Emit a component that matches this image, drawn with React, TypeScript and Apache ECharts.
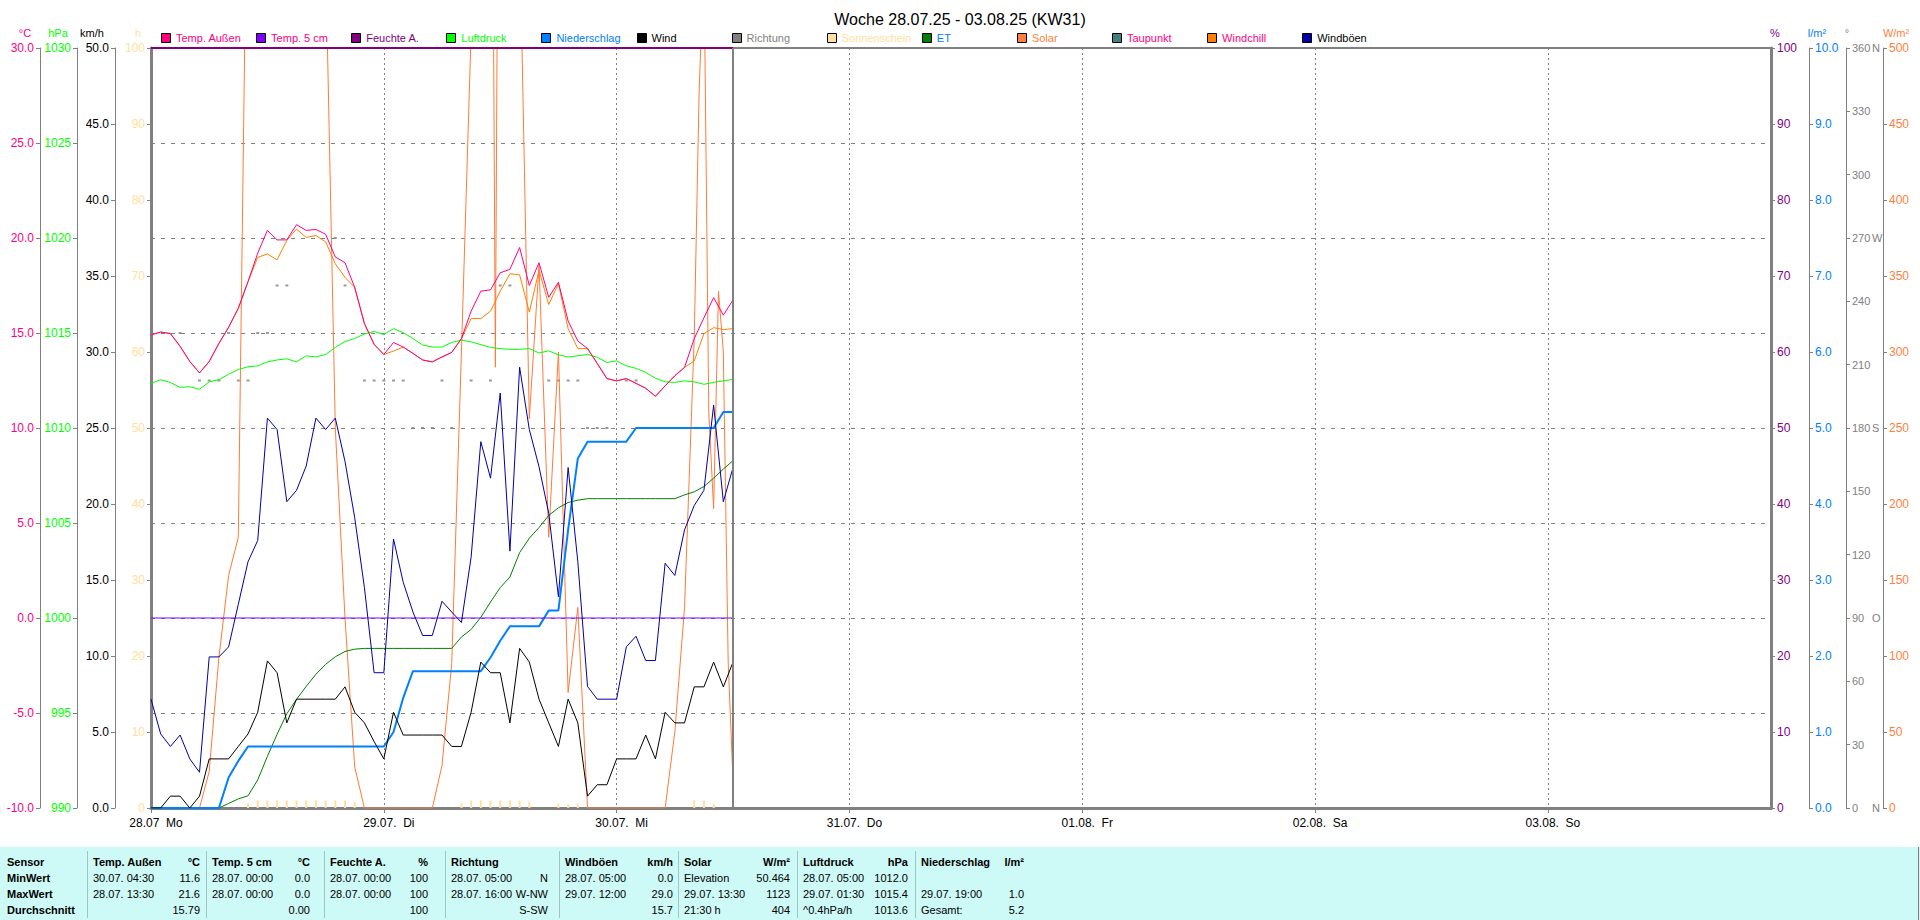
import React, { useEffect, useRef } from "react";
import * as echarts from "echarts";

const FONT = "'Liberation Sans', Arial, sans-serif";

const TITLE = "Woche 28.07.25 - 03.08.25 (KW31)";
const DAY_LABELS = ["28.07  Mo", "29.07.  Di", "30.07.  Mi", "31.07.  Do", "01.08.  Fr", "02.08.  Sa", "03.08.  So"];

// hourly samples, index = hours since 28.07. 00:00
const TEMP_AUSSEN = [
  14.9, 15.05, 14.97, 14.3, 13.5, 12.9, 13.5, 14.45, 15.3, 16.3,
  17.7, 19.2, 20.4, 19.9, 19.9, 20.7, 20.4, 20.45, 20.2, 19.0,
  18.7, 17.4, 15.5, 14.4, 13.87, 14.5, 14.26, 13.93, 13.58, 13.48,
  13.74, 13.98, 14.7, 16.15, 17.2, 17.27, 18.17, 18.35, 19.5, 17.5,
  18.7, 16.88, 17.67, 15.63, 14.58, 14.18, 13.4, 12.6, 12.48, 12.6,
  12.35, 12.09, 11.67, 12.22, 12.75, 13.19, 14.7, 15.8, 16.86, 15.94,
  16.74,
];
const WINDCHILL = [
  14.9, 15.05, 14.97, 14.3, 13.5, 12.9, 13.5, 14.45, 15.3, 16.3,
  17.7, 18.98, 19.16, 18.85, 19.87, 20.47, 20.03, 20.13, 19.8, 18.64,
  17.93, 17.4, 15.5, 14.4, 13.87, 14.05, 14.26, 13.93, 13.58, 13.48,
  13.74, 13.98, 14.7, 15.76, 15.76, 16.15, 17.2, 18.12, 18.06, 16.1,
  18.3, 16.5, 17.6, 15.23, 14.18, 14.18, 13.4, 12.6, 12.48, 12.6,
  12.35, 12.09, 11.67, 12.22, 12.75, 13.19, 13.53, 14.97, 15.28, 15.18,
  15.23,
];
const LUFTDRUCK = [
  1012.35, 1012.54, 1012.4, 1012.14, 1012.17, 1012.04, 1012.43, 1012.54, 1012.83, 1013.08,
  1013.22, 1013.27, 1013.48, 1013.58, 1013.64, 1013.48, 1013.8, 1013.74, 1013.87, 1014.24,
  1014.55, 1014.71, 1014.95, 1015.08, 1014.92, 1015.23, 1015.02, 1014.71, 1014.37, 1014.26,
  1014.26, 1014.5, 1014.63, 1014.53, 1014.39, 1014.24, 1014.18, 1014.14, 1014.14, 1014.18,
  1013.95, 1014.06, 1013.85, 1013.74, 1013.8, 1013.87, 1013.72, 1013.45, 1013.53, 1013.27,
  1013.14, 1012.93, 1012.62, 1012.43, 1012.4, 1012.48, 1012.43, 1012.3, 1012.4, 1012.48,
  1012.56,
];
const WIND = [
  0, 0, 0.78, 0.78, 0, 0.78, 3.23, 3.23, 3.23, 4.05,
  4.87, 6.3, 9.68, 8.9, 5.6, 7.16, 7.16, 7.16, 7.16, 7.16,
  7.97, 6.3, 5.6, 4.37, 3.23, 6.3, 4.8, 4.8, 4.8, 4.8,
  4.8, 4.05, 4.05, 6.3, 9.6, 8.9, 8.9, 5.6, 10.5, 9.6,
  7.16, 5.6, 4.05, 7.16, 5.6, 0.78, 1.53, 1.53, 3.23, 3.23,
  3.23, 4.8, 3.23, 6.3, 5.6, 5.6, 7.97, 7.97, 9.6, 7.97,
  9.6,
];
const WINDBOEEN = [
  7.16, 4.87, 4.05, 4.8, 3.23, 2.35, 9.94, 9.94, 10.6, 13.4,
  16.2, 17.6, 25.65, 24.9, 20.15, 20.9, 22.5, 25.65, 24.9, 25.65,
  22.8, 19.1, 14.5, 8.9, 8.9, 17.7, 14.85, 12.9, 11.35, 11.35,
  13.6, 12.9, 12.2, 16.5, 24.1, 21.7, 27.3, 16.9, 29.0, 24.9,
  22.45, 19.4, 13.9, 22.4, 16.2, 8.0, 7.16, 7.16, 7.16, 10.6,
  11.3, 9.7, 9.7, 16.1, 15.3, 18.3, 19.9, 20.9, 26.5, 20.15,
  22.4,
];
const NIEDERSCHLAG = [
  0, 0, 0, 0, 0, 0, 0, 0, 0.4, 0.62,
  0.81, 0.81, 0.81, 0.81, 0.81, 0.81, 0.81, 0.81, 0.81, 0.81,
  0.81, 0.81, 0.81, 0.81, 0.81, 1.0, 1.45, 1.8, 1.8, 1.8,
  1.8, 1.8, 1.8, 1.8, 1.8, 1.98, 2.2, 2.39, 2.39, 2.39,
  2.39, 2.6, 2.6, 3.66, 4.6, 4.82, 4.82, 4.82, 4.82, 4.82,
  5.0, 5.0, 5.0, 5.0, 5.0, 5.0, 5.0, 5.0, 5.0, 5.21,
  5.21,
];
const ET = [
  0, 0, 0, 0, 0, 0, 0, 0, 0.06, 0.12,
  0.16, 0.37, 0.68, 0.97, 1.24, 1.43, 1.6, 1.76, 1.89, 1.99,
  2.06, 2.09, 2.1, 2.1, 2.1, 2.1, 2.1, 2.1, 2.1, 2.1,
  2.1, 2.1, 2.25, 2.35, 2.51, 2.71, 2.9, 3.04, 3.36, 3.55,
  3.69, 3.85, 3.95, 4.02, 4.05, 4.07, 4.07, 4.07, 4.07, 4.07,
  4.07, 4.07, 4.07, 4.07, 4.07, 4.12, 4.16, 4.23, 4.34, 4.46,
  4.57,
];
const TEMP_5CM_HOURS = [0, 60];
const TEMP_5CM = [0.0, 0.0];
const FEUCHTE_HOURS = [0, 60];
const FEUCHTE = [100, 100];
const NOW_HOUR = 60;

const SOLAR_HOURS = [0, 5, 6, 7, 8, 9, 10, 11, 12, 13, 14, 15, 16, 17, 18, 19, 20, 21, 22, 29, 30, 31, 32, 33, 34, 35, 35.5, 36, 36.5, 37, 38, 39, 40, 41, 42, 43, 44, 45, 53, 54, 55, 56, 56.5, 57, 57.5, 58, 58.5, 59, 59.5, 60];
const SOLAR_VALUES = [0, 0, 24, 99, 153, 178, 670, 800, 900, 950, 930, 870, 780, 680, 560, 250, 125, 27, 0, 0, 28, 95, 300, 510, 750, 880, 290, 900, 1050, 1123, 580, 256, 357, 178, 300, 76, 132, 0, 0, 50, 132, 309, 470, 560, 260, 197, 340, 300, 96, 18];

const SUN_HOURS = [10, 11, 12, 13, 14, 15, 16, 17, 18, 19, 20, 21, 32, 33, 34, 35, 36, 37, 38, 39, 42, 43, 44, 56, 57, 58];
const SUN_VALUES = [0.6, 1, 1, 1, 1, 1, 1, 1, 1, 1, 1, 0.8, 0.6, 1, 1, 1, 1, 1, 1, 0.8, 0.6, 0.5, 0.6, 1, 1, 0.5];

const DIR_HOURS = [3, 5, 6, 7, 8, 9, 10, 11, 12, 13, 14, 19, 20, 22, 23, 24, 25, 26, 27, 28, 29, 30, 31, 33, 35, 36, 37, 41, 42, 43, 44, 45, 46, 47, 49, 50];
const DIR_DEG = [225, 202.5, 202.5, 202.5, 225, 202.5, 202.5, 225, 225, 247.5, 247.5, 270, 247.5, 202.5, 202.5, 202.5, 202.5, 202.5, 180, 180, 180, 202.5, 180, 202.5, 202.5, 247.5, 247.5, 202.5, 202.5, 202.5, 202.5, 180, 180, 180, 202.5, 202.5];

const COMPASS: Record<number, string> = { 0: "N", 90: "O", 180: "S", 270: "W", 360: "N" };

const LEGEND_NAMES = ["Temp. Außen", "Temp. 5 cm", "Feuchte A.", "Luftdruck", "Niederschlag", "Wind", "Richtung", "Sonnenschein", "ET", "Solar", "Taupunkt", "Windchill", "Windböen"];
const LEGEND_BOX = ["#FF0080", "#8000FF", "#800080", "#00FF00", "#0080FF", "#000000", "#808080", "#FFE0A0", "#008000", "#FF8040", "#408080", "#FF8000", "#0000A0"];
const LEGEND_TEXT = ["#FF0080", "#FF0080", "#800080", "#00FF00", "#0080FF", "#000000", "#808080", "#FFE0A0", "#0080FF", "#FF8040", "#FF0080", "#FF0080", "#000000"];

const AXIS_NAMES = ["°C", "hPa", "km/h", "h", "%", "l/m²", "°", "W/m²"];
const AXIS_NAME_X = [25, 58, 92, 138, 1775, 1817, 1847, 1896];
const AXIS_NAME_COLORS = ["#FF0080", "#00FF00", "#000000", "#FFE0A0", "#800080", "#0080FF", "#808080", "#FF8040"];

const TBL_ROWS = ["Sensor", "MinWert", "MaxWert", "Durchschnitt"];
const TBL_COLS = ["Temp. Außen", "Temp. 5 cm", "Feuchte A.", "Richtung", "Windböen", "Solar", "Luftdruck", "Niederschlag"];
const TBL_UNITS = ["°C", "°C", "%", "", "km/h", "W/m²", "hPa", "l/m²"];
const TBL_MIN_WHEN = ["30.07. 04:30", "28.07. 00:00", "28.07. 00:00", "28.07. 05:00", "28.07. 05:00", "Elevation", "28.07. 05:00", ""];
const TBL_MIN_VAL = ["11.6", "0.0", "100", "N", "0.0", "50.464", "1012.0", ""];
const TBL_MAX_WHEN = ["28.07. 13:30", "28.07. 00:00", "28.07. 00:00", "28.07. 16:00", "29.07. 12:00", "29.07. 13:30", "29.07. 01:30", "29.07. 19:00"];
const TBL_MAX_VAL = ["21.6", "0.0", "100", "W-NW", "29.0", "1123", "1015.4", "1.0"];
const TBL_AVG_WHEN = ["", "", "", "", "", "21:30 h", "^0.4hPa/h", "Gesamt:"];
const TBL_AVG_VAL = ["15.79", "0.00", "100", "S-SW", "15.7", "404", "1013.6", "5.2"];

// layout
const COL_LEFT = [93, 212, 330, 451, 565, 684, 803, 921];
const COL_RIGHT = [200, 310, 428, 548, 673, 790, 908, 1024];
const ROW_Y = [862, 878, 894, 910];

function buildOption() {
  const gfx: any[] = [];
  gfx.push({ type: "line", silent: true, z: 0, shape: { x1: 151, y1: 48, x2: 1771, y2: 48 }, style: { stroke: "#808080", lineWidth: 2 } });
  AXIS_NAMES.forEach((n, i) =>
    gfx.push({ type: "text", x: AXIS_NAME_X[i], y: 33, silent: true, style: { text: n, fill: AXIS_NAME_COLORS[i], fontSize: 11, fontFamily: FONT, align: "center", verticalAlign: "middle" } })
  );
  LEGEND_NAMES.forEach((n, i) => {
    const x = 161 + i * 95.1;
    gfx.push({ type: "rect", silent: true, shape: { x: Math.round(x) + 0.5, y: 33.5, width: 9, height: 9 }, style: { fill: LEGEND_BOX[i], stroke: "#000", lineWidth: 1 } });
    gfx.push({ type: "text", silent: true, x: x + 15, y: 38, style: { text: n, fill: LEGEND_TEXT[i], fontSize: 11, fontFamily: FONT, verticalAlign: "middle" } });
  });
  // table
  gfx.push({ type: "rect", silent: true, shape: { x: 0, y: 847, width: 1920, height: 73 }, style: { fill: "#CDF9F6" } });
  gfx.push({ type: "line", silent: true, shape: { x1: 1918.5, y1: 847, x2: 1918.5, y2: 920 }, style: { stroke: "#808080", lineWidth: 1 } });
  COL_LEFT.forEach((x) =>
    gfx.push({ type: "line", silent: true, shape: { x1: x - 5.5, y1: 851, x2: x - 5.5, y2: 918 }, style: { stroke: "#9FC4C4", lineWidth: 1 } })
  );
  const t = (text: string, x: number, y: number, bold: boolean, align: string) =>
    gfx.push({ type: "text", silent: true, x, y, style: { text, fill: "#000", fontSize: 11, fontFamily: FONT, fontWeight: bold ? "bold" : "normal", align, verticalAlign: "middle" } });
  TBL_ROWS.forEach((r, i) => t(r, 7, ROW_Y[i], true, "left"));
  TBL_COLS.forEach((c, i) => {
    t(c, COL_LEFT[i], ROW_Y[0], true, "left");
    if (TBL_UNITS[i]) t(TBL_UNITS[i], COL_RIGHT[i], ROW_Y[0], true, "right");
    t(TBL_MIN_WHEN[i], COL_LEFT[i], ROW_Y[1], false, "left");
    t(TBL_MIN_VAL[i], COL_RIGHT[i], ROW_Y[1], false, "right");
    t(TBL_MAX_WHEN[i], COL_LEFT[i], ROW_Y[2], false, "left");
    t(TBL_MAX_VAL[i], COL_RIGHT[i], ROW_Y[2], false, "right");
    t(TBL_AVG_WHEN[i], COL_LEFT[i], ROW_Y[3], false, "left");
    t(TBL_AVG_VAL[i], COL_RIGHT[i], ROW_Y[3], false, "right");
  });

  const mkY = (p: any) => ({
    type: "value",
    min: p.min,
    max: p.max,
    interval: p.interval,
    position: p.position,
    offset: p.offset,
    axisLine: { show: true, onZero: false, lineStyle: { color: "#808080", width: p.lw || 1 } },
    axisTick: { show: true, length: 4, lineStyle: { color: "#808080" } },
    axisLabel: { show: true, color: p.color, fontSize: 12, fontFamily: FONT, margin: 6, formatter: p.fmt, rich: p.rich, showMinLabel: true, showMaxLabel: true },
    splitLine: p.split ? { show: true, lineStyle: { color: "#808080", type: [4, 6], width: 1 } } : { show: false },
  });

  const yAxis = [
    mkY({ min: -10, max: 30, interval: 5, position: "left", offset: 111, color: "#FF0080", fmt: (v: number) => v.toFixed(1), split: true }),
    mkY({ min: 990, max: 1030, interval: 5, position: "left", offset: 74, color: "#00FF00", fmt: (v: number) => String(v) }),
    mkY({ min: 0, max: 50, interval: 5, position: "left", offset: 36, color: "#000000", fmt: (v: number) => v.toFixed(1) }),
    mkY({ min: 0, max: 100, interval: 10, position: "left", offset: 0, color: "#FFE0A0", fmt: (v: number) => String(v), lw: 3 }),
    mkY({ min: 0, max: 100, interval: 10, position: "right", offset: 0, color: "#800080", fmt: (v: number) => String(v), lw: 3 }),
    mkY({ min: 0, max: 10, interval: 1, position: "right", offset: 38, color: "#0080FF", fmt: (v: number) => v.toFixed(1) }),
    mkY({
      min: 0, max: 360, interval: 30, position: "right", offset: 75, color: "#808080",
      fmt: (v: number) => `{n|${v}}{c|${COMPASS[v] || ""}}`,
      rich: { n: { width: 20, align: "left", color: "#808080", fontSize: 11, fontFamily: FONT }, c: { color: "#808080", fontSize: 11, fontFamily: FONT } },
    }),
    mkY({ min: 0, max: 500, interval: 50, position: "right", offset: 112, color: "#FF8040", fmt: (v: number) => String(v) }),
  ];

  const hourly = (arr: number[]) => arr.map((v, i) => [i, v]);
  const paired = (hs: number[], vs: number[]) => hs.map((h, i) => [h, vs[i]]);
  const line = (name: string, data: any[], yAxisIndex: number, color: string, width = 1, extra: any = {}) => ({
    name, type: "line", data, yAxisIndex, showSymbol: false, symbol: "none", silent: true,
    lineStyle: { color, width }, itemStyle: { color }, emphasis: { disabled: true }, animation: false, ...extra,
  });

  const series = [
    line("Solar", paired(SOLAR_HOURS, SOLAR_VALUES), 7, "#FF7A3A"),
    { name: "Sonnenschein", type: "bar", yAxisIndex: 3, barWidth: 2, silent: true, data: paired(SUN_HOURS, SUN_VALUES), itemStyle: { color: "#FFE0A0" } },
    line("ET", hourly(ET), 5, "#008000"),
    line("Niederschlag", hourly(NIEDERSCHLAG), 5, "#0080FF", 2),
    line("Wind", hourly(WIND), 2, "#000000"),
    line("Luftdruck", hourly(LUFTDRUCK), 1, "#00FF00"),
    line("Temp. 5 cm", paired(TEMP_5CM_HOURS, TEMP_5CM), 0, "#8000FF"),
    line("Windchill", hourly(WINDCHILL), 0, "#FF8000"),
    line("Temp. Außen", hourly(TEMP_AUSSEN), 0, "#FF0080"),
    line("Windböen", hourly(WINDBOEEN), 2, "#0000A0"),
    { name: "Richtung", type: "scatter", yAxisIndex: 6, symbol: "rect", symbolSize: [3, 2], silent: true, data: paired(DIR_HOURS, DIR_DEG), itemStyle: { color: "#808080" } },
    line("Feuchte A.", paired(FEUCHTE_HOURS, FEUCHTE), 4, "#800080", 2, {
      clip: false,
      markLine: { silent: true, symbol: ["none", "none"], label: { show: false }, lineStyle: { color: "#808080", width: 2, type: "solid" }, data: [{ xAxis: NOW_HOUR }] },
    }),
  ];

  return {
    animation: false,
    backgroundColor: "#FFFFFF",
    title: { text: TITLE, left: "center", top: 6, textStyle: { fontSize: 16, fontWeight: "normal", color: "#000", fontFamily: FONT } },
    grid: { left: 151, right: 149, top: 48, bottom: 112, containLabel: false, outerBoundsMode: "none" },
    xAxis: {
      type: "value", min: 0, max: 167, interval: 24,
      axisLine: { show: true, onZero: false, lineStyle: { color: "#808080", width: 3 } },
      axisTick: { show: true, length: 5, lineStyle: { color: "#808080" } },
      axisLabel: { color: "#000", fontSize: 12, fontFamily: FONT, margin: 9, padding: [0, 0, 0, 10], showMinLabel: true, showMaxLabel: false, formatter: (v: number) => DAY_LABELS[Math.round(v / 24)] || "" },
      splitLine: { show: true, lineStyle: { color: "#808080", type: [2, 3], width: 1 } },
    },
    yAxis,
    series,
    graphic: gfx,
  };
}

export default function App() {
  const ref = useRef<HTMLDivElement>(null);
  useEffect(() => {
    if (!ref.current) return;
    const chart = echarts.init(ref.current, undefined, { renderer: "svg", width: 1920, height: 920 });
    chart.setOption(buildOption() as any);
    return () => chart.dispose();
  }, []);
  return <div ref={ref} style={{ position: "fixed", left: 0, top: 0, width: 1920, height: 920, background: "#fff" }} />;
}
